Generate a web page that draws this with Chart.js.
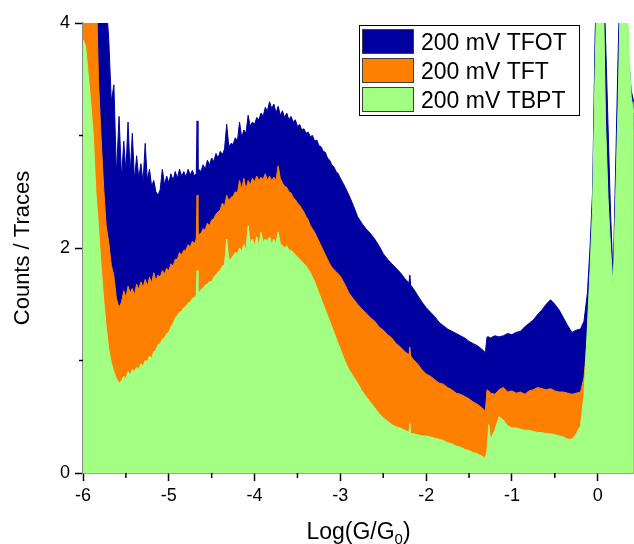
<!DOCTYPE html>
<html>
<head>
<meta charset="utf-8">
<title>Conductance histograms</title>
<script src="https://cdn.jsdelivr.net/npm/chart.js@4.4.1/dist/chart.umd.min.js"></script>
<style>
    html, body { margin: 0; padding: 0; background: #fff; }
    #wrap { width: 634px; height: 544px; }
</style>
</head>
<body>
<div id="wrap"><canvas id="histChart" width="634" height="544"></canvas></div>
<script>
// Conductance histograms at 200 mV bias

// Log(G/G0) bin positions shared by all three traces
const logG = [
    -6.00, -5.97, -5.94, -5.91, -5.88, -5.85, -5.82, -5.79, -5.76, -5.73, -5.70, -5.67, -5.64, -5.61, -5.58,
    -5.550, -5.525, -5.500, -5.475, -5.450, -5.425, -5.400, -5.375, -5.350, -5.325,
    -5.300, -5.275, -5.250, -5.225, -5.200, -5.175, -5.150, -5.125, -5.100, -5.075,
    -5.050, -5.025, -5.000, -4.975, -4.950, -4.925, -4.900, -4.875, -4.850, -4.825,
    -4.800, -4.775, -4.750, -4.725, -4.700,
    -4.680, -4.670, -4.660,
    -4.650, -4.625, -4.600, -4.575, -4.550, -4.525, -4.500, -4.475, -4.450, -4.425,
    -4.400, -4.375, -4.350, -4.325, -4.300, -4.275, -4.250, -4.225, -4.200, -4.175,
    -4.150, -4.125, -4.100, -4.075, -4.050, -4.025, -4.000, -3.975, -3.950, -3.925,
    -3.900, -3.875, -3.850, -3.825, -3.800, -3.775, -3.750, -3.725, -3.700, -3.675,
    -3.650, -3.625, -3.600, -3.575, -3.550, -3.525, -3.500, -3.475, -3.450, -3.425,
    -3.400, -3.375, -3.350, -3.325, -3.300, -3.275, -3.250, -3.225, -3.200, -3.175,
    -3.150, -3.125, -3.100, -3.075, -3.050, -3.025, -3.000,
    -2.95, -2.90, -2.85, -2.80, -2.75, -2.70, -2.65, -2.60, -2.55, -2.50, -2.45, -2.40, -2.35, -2.30, -2.25, -2.20,
    -2.19, -2.18,
    -2.15, -2.10, -2.05, -2.00, -1.95, -1.90, -1.85, -1.80, -1.75, -1.70, -1.65, -1.60, -1.55, -1.50, -1.45, -1.40, -1.35,
    -1.31, -1.29, -1.27,
    -1.25, -1.20, -1.15, -1.10, -1.05, -1.00, -0.95, -0.90, -0.85, -0.80, -0.75,
    -0.70, -0.65, -0.60, -0.55, -0.50, -0.45, -0.40, -0.35, -0.30, -0.25, -0.20,
    -0.16, -0.12, -0.09, -0.06, -0.03,
    0.00, 0.03, 0.06, 0.09, 0.12, 0.15, 0.18, 0.21, 0.24, 0.27, 0.30, 0.33, 0.36, 0.39, 0.42
];

const tfot = [
    4.6, 4.6, 4.6, 4.6, 4.6, 4.6, 4.6, 4.6, 4.5, 4.2, 3.86, 3.3, 3.45, 2.65, 3.17,
    2.62, 2.95, 2.68, 3.12, 2.66, 3.02, 2.6, 2.82, 2.62, 2.75,
    2.58, 2.93, 2.6, 2.7, 2.55, 2.6, 2.5, 2.47, 2.52, 2.7,
    2.56, 2.64, 2.58, 2.66, 2.6, 2.68, 2.62, 2.7, 2.64, 2.68,
    2.63, 2.7, 2.65, 2.69, 2.64,
    2.66, 3.13, 2.68,
    2.7, 2.68, 2.74, 2.7, 2.78, 2.74, 2.8, 2.77, 2.84, 2.8,
    2.86, 2.83, 2.88, 3.1, 2.9, 2.93, 2.92, 2.98, 2.95, 3.12,
    2.98, 3.05, 3.02, 3.18, 3.08, 3.12, 3.1, 3.16, 3.14, 3.2,
    3.17, 3.25, 3.22, 3.3, 3.24, 3.28, 3.2, 3.26, 3.18, 3.22,
    3.16, 3.2, 3.14, 3.17, 3.12, 3.14, 3.08, 3.1, 3.05, 3.06,
    3.02, 3.03, 2.99, 3.0, 2.95, 2.96, 2.91, 2.9, 2.86, 2.85,
    2.8, 2.78, 2.74, 2.72, 2.68, 2.66, 2.62,
    2.55, 2.47, 2.38, 2.28, 2.22, 2.17, 2.13, 2.08, 2.02, 1.95, 1.9, 1.86, 1.82, 1.78, 1.73, 1.69,
    1.76, 1.67,
    1.64, 1.58, 1.52, 1.47, 1.43, 1.39, 1.34, 1.31, 1.28, 1.26, 1.24, 1.22, 1.2, 1.17, 1.15, 1.13, 1.1,
    1.07, 1.21, 1.21,
    1.2, 1.22, 1.21, 1.22, 1.24, 1.23, 1.25, 1.26, 1.3, 1.33, 1.36,
    1.41, 1.45, 1.5, 1.54, 1.5, 1.45, 1.38, 1.31, 1.25, 1.27, 1.28,
    1.35, 1.6, 2.0, 2.5, 3.9,
    4.6, 4.6, 4.6, 3.9, 3.1, 2.3, 1.73, 2.75, 3.8, 4.6, 4.6, 4.4, 3.7, 3.4, 3.3
];

const tft = [
    4.6, 4.6, 4.6, 4.6, 4.6, 4.5, 3.5, 3.0, 2.55, 2.2, 2.05, 1.85, 1.75, 1.55, 1.47,
    1.52, 1.62, 1.56, 1.66, 1.6, 1.64, 1.58, 1.68, 1.63, 1.7,
    1.65, 1.72, 1.66, 1.74, 1.69, 1.78, 1.71, 1.76, 1.74, 1.8,
    1.77, 1.82, 1.8, 1.86, 1.84, 1.9, 1.9, 1.96, 1.94, 1.98,
    1.98, 2.03, 2.01, 2.06, 2.04,
    2.08, 2.47, 2.1,
    2.12, 2.13, 2.17, 2.16, 2.22, 2.2, 2.25, 2.26, 2.3, 2.32,
    2.34, 2.4, 2.37, 2.47, 2.42, 2.45, 2.46, 2.5, 2.49, 2.6,
    2.52, 2.62, 2.52, 2.6, 2.56, 2.62, 2.59, 2.64, 2.6, 2.63,
    2.61, 2.66, 2.6, 2.64, 2.6, 2.63, 2.6, 2.73, 2.62, 2.58,
    2.55, 2.54, 2.5, 2.49, 2.45, 2.43, 2.4, 2.38, 2.35, 2.32,
    2.28, 2.25, 2.2, 2.17, 2.14, 2.1, 2.06, 2.02, 1.98, 1.94,
    1.9, 1.86, 1.83, 1.81, 1.79, 1.77, 1.75,
    1.68, 1.6, 1.55, 1.5, 1.46, 1.42, 1.38, 1.35, 1.3, 1.27, 1.23, 1.2, 1.15, 1.12, 1.08, 1.05,
    1.12, 1.04,
    1.01, 0.97, 0.92, 0.88, 0.86, 0.83, 0.8, 0.79, 0.76, 0.74, 0.71, 0.7, 0.68, 0.66, 0.63, 0.61, 0.58,
    0.55, 0.74, 0.73,
    0.71, 0.7, 0.74, 0.76, 0.72, 0.73, 0.71, 0.72, 0.7, 0.73, 0.74,
    0.76, 0.75, 0.74, 0.75, 0.73, 0.72, 0.72, 0.71, 0.7, 0.71, 0.72,
    0.85, 1.2, 1.6, 2.1, 3.3,
    4.2, 4.4, 4.2, 3.0, 2.3, 1.9, 1.5, 2.3, 3.2, 4.0, 4.2, 4.2, 3.6, 3.2, 3.0
];

const tbpt = [
    3.85, 3.8, 3.55, 3.3, 3.0, 2.5, 2.2, 1.85, 1.55, 1.3, 1.1, 0.98, 0.9, 0.84, 0.8,
    0.82, 0.86, 0.84, 0.9, 0.87, 0.92, 0.9, 0.94, 0.92, 0.97,
    0.95, 1.0, 0.99, 1.04, 1.02, 1.08, 1.09, 1.14, 1.15, 1.19,
    1.2, 1.24, 1.25, 1.3, 1.33, 1.38, 1.4, 1.43, 1.44, 1.47,
    1.48, 1.51, 1.52, 1.55, 1.56,
    1.58, 1.8, 1.6,
    1.6, 1.63, 1.64, 1.67, 1.68, 1.7, 1.7, 1.74, 1.76, 1.79,
    1.8, 1.84, 1.85, 2.08, 1.9, 1.9, 1.93, 1.96, 1.95, 2.0,
    1.97, 2.03, 1.98, 2.2, 2.04, 2.08, 2.02, 2.1, 2.02, 2.14,
    2.05, 2.08, 2.06, 2.1, 2.03, 2.08, 2.04, 2.14, 2.04, 2.02,
    2.0, 2.02, 1.98, 1.98, 1.96, 1.94, 1.92, 1.9, 1.88, 1.86,
    1.84, 1.81, 1.78, 1.74, 1.7, 1.65, 1.6, 1.55, 1.5, 1.45,
    1.4, 1.35, 1.3, 1.25, 1.2, 1.15, 1.1,
    1.0, 0.92, 0.86, 0.8, 0.73, 0.68, 0.63, 0.58, 0.53, 0.49, 0.46, 0.43, 0.41, 0.4, 0.38, 0.36,
    0.44, 0.35,
    0.35, 0.34, 0.33, 0.33, 0.32, 0.31, 0.3, 0.29, 0.27, 0.26, 0.24, 0.23, 0.21, 0.2, 0.18, 0.17, 0.15,
    0.13, 0.2, 0.43,
    0.3, 0.38, 0.5, 0.47, 0.42, 0.4, 0.4, 0.39, 0.38, 0.38, 0.37,
    0.36, 0.36, 0.35, 0.35, 0.34, 0.33, 0.32, 0.3, 0.3, 0.35, 0.42,
    0.7, 1.3, 1.8, 2.35, 3.6,
    4.6, 4.6, 4.6, 3.15, 2.45, 2.0, 1.65, 2.45, 3.35, 4.5, 4.6, 4.6, 3.8, 3.35, 3.2
];

const seriesNames = ['200 mV TFOT', '200 mV TFT', '200 mV TBPT'];
const seriesColors = ['#0000A0', '#FF8000', '#A3FF82'];

const xMajorTicks = [-6, -5, -4, -3, -2, -1, 0];
const xMinorTicks = [-5.5, -4.5, -3.5, -2.5, -1.5, -0.5];
const yMajorTicks = [0, 2, 4];
const yMinorTicks = [1, 3];

const FONT = "'Liberation Sans', Arial, sans-serif";
Chart.defaults.font.family = FONT;
Chart.defaults.color = '#000';

function toPoints(values) {
    return logG.map((x, i) => ({ x: x, y: values[i] }));
}

// short ticks at the half decades and odd counts
const minorTicksPlugin = {
    id: 'minorTicks',
    afterDraw(chart) {
        const ctx = chart.ctx;
        const xs = chart.scales.x;
        const ys = chart.scales.y;
        ctx.save();
        ctx.strokeStyle = '#000';
        ctx.lineWidth = 1.5;
        xMinorTicks.forEach(v => {
            const px = xs.getPixelForValue(v);
            ctx.beginPath();
            ctx.moveTo(px, xs.top);
            ctx.lineTo(px, xs.top + 5);
            ctx.stroke();
        });
        yMinorTicks.forEach(v => {
            const py = ys.getPixelForValue(v);
            ctx.beginPath();
            ctx.moveTo(ys.right, py);
            ctx.lineTo(ys.right - 4, py);
            ctx.stroke();
        });
        ctx.restore();
    }
};

// x axis title with a subscript zero
const xTitlePlugin = {
    id: 'xTitle',
    afterDraw(chart) {
        const ctx = chart.ctx;
        const area = chart.chartArea;
        const base = 539;
        ctx.save();
        ctx.fillStyle = '#000';
        ctx.textBaseline = 'alphabetic';
        ctx.font = '23px ' + FONT;
        const partA = 'Log(G/G';
        const partC = ')';
        const wA = ctx.measureText(partA).width;
        const wC = ctx.measureText(partC).width;
        ctx.font = '15px ' + FONT;
        const wB = ctx.measureText('0').width;
        let x = (area.left + area.right) / 2 - (wA + wB + wC) / 2;
        ctx.font = '23px ' + FONT;
        ctx.fillText(partA, x, base);
        x += wA;
        ctx.font = '15px ' + FONT;
        ctx.fillText('0', x, base + 5);
        x += wB;
        ctx.font = '23px ' + FONT;
        ctx.fillText(partC, x, base);
        ctx.restore();
    }
};

// boxed legend in the upper right
const boxLegendPlugin = {
    id: 'boxLegend',
    afterDraw(chart) {
        const ctx = chart.ctx;
        const left = 359, top = 25, width = 220, height = 90;
        ctx.save();
        ctx.fillStyle = '#fff';
        ctx.fillRect(left, top, width, height);
        ctx.strokeStyle = '#000';
        ctx.lineWidth = 1;
        ctx.strokeRect(left + 0.5, top + 0.5, width, height);
        ctx.font = '23px ' + FONT;
        ctx.textBaseline = 'alphabetic';
        chart.data.datasets.forEach((ds, i) => {
            const y = top + 4 + i * 29;
            ctx.fillStyle = ds.backgroundColor;
            ctx.fillRect(left + 3, y, 52, 25);
            ctx.strokeStyle = '#404040';
            ctx.strokeRect(left + 3.5, y + 0.5, 51, 24);
            ctx.fillStyle = '#000';
            ctx.fillText(ds.label, left + 62, y + 21);
        });
        ctx.restore();
    }
};

const ctx = document.getElementById('histChart');
new Chart(ctx, {
    type: 'line',
    data: {
        datasets: [tfot, tft, tbpt].map((values, i) => ({
            label: seriesNames[i],
            data: toPoints(values),
            backgroundColor: seriesColors[i],
            borderColor: seriesColors[i],
            borderWidth: 1,
            pointRadius: 0,
            tension: 0,
            fill: 'origin',
            order: 3 - i
        }))
    },
    options: {
        responsive: false,
        animation: false,
        devicePixelRatio: 1,
        layout: { padding: { top: 23, right: 0, left: 0, bottom: 0 } },
        plugins: {
            legend: { display: false },
            tooltip: { enabled: false }
        },
        scales: {
            x: {
                type: 'linear',
                min: -6,
                max: 0.423,
                afterBuildTicks: scale => {
                    scale.ticks = xMajorTicks.map(v => ({ value: v }));
                },
                afterFit: scale => { scale.height = 71; },
                ticks: {
                    includeBounds: false,
                    font: { size: 18 },
                    color: '#000',
                    padding: 4,
                    maxRotation: 0,
                    callback: v => String(v)
                },
                grid: {
                    drawOnChartArea: false,
                    drawTicks: true,
                    tickLength: 8,
                    tickColor: '#000',
                    tickWidth: 1.5
                },
                border: { display: true, color: '#444', width: 1.5 }
            },
            y: {
                type: 'linear',
                min: 0,
                max: 4,
                afterBuildTicks: scale => {
                    scale.ticks = yMajorTicks.map(v => ({ value: v }));
                },
                afterFit: scale => { scale.width = 83; },
                ticks: {
                    font: { size: 18 },
                    color: '#000',
                    padding: 5,
                    callback: v => String(v)
                },
                grid: {
                    drawOnChartArea: false,
                    drawTicks: true,
                    tickLength: 8,
                    tickColor: '#000',
                    tickWidth: 1.5
                },
                border: { display: true, color: '#888', width: 1.5 },
                title: {
                    display: true,
                    text: 'Counts / Traces',
                    font: { size: 22 },
                    color: '#000',
                    padding: { top: 10, bottom: 0 }
                }
            }
        }
    },
    plugins: [minorTicksPlugin, xTitlePlugin, boxLegendPlugin]
});
</script>
</body>
</html>
